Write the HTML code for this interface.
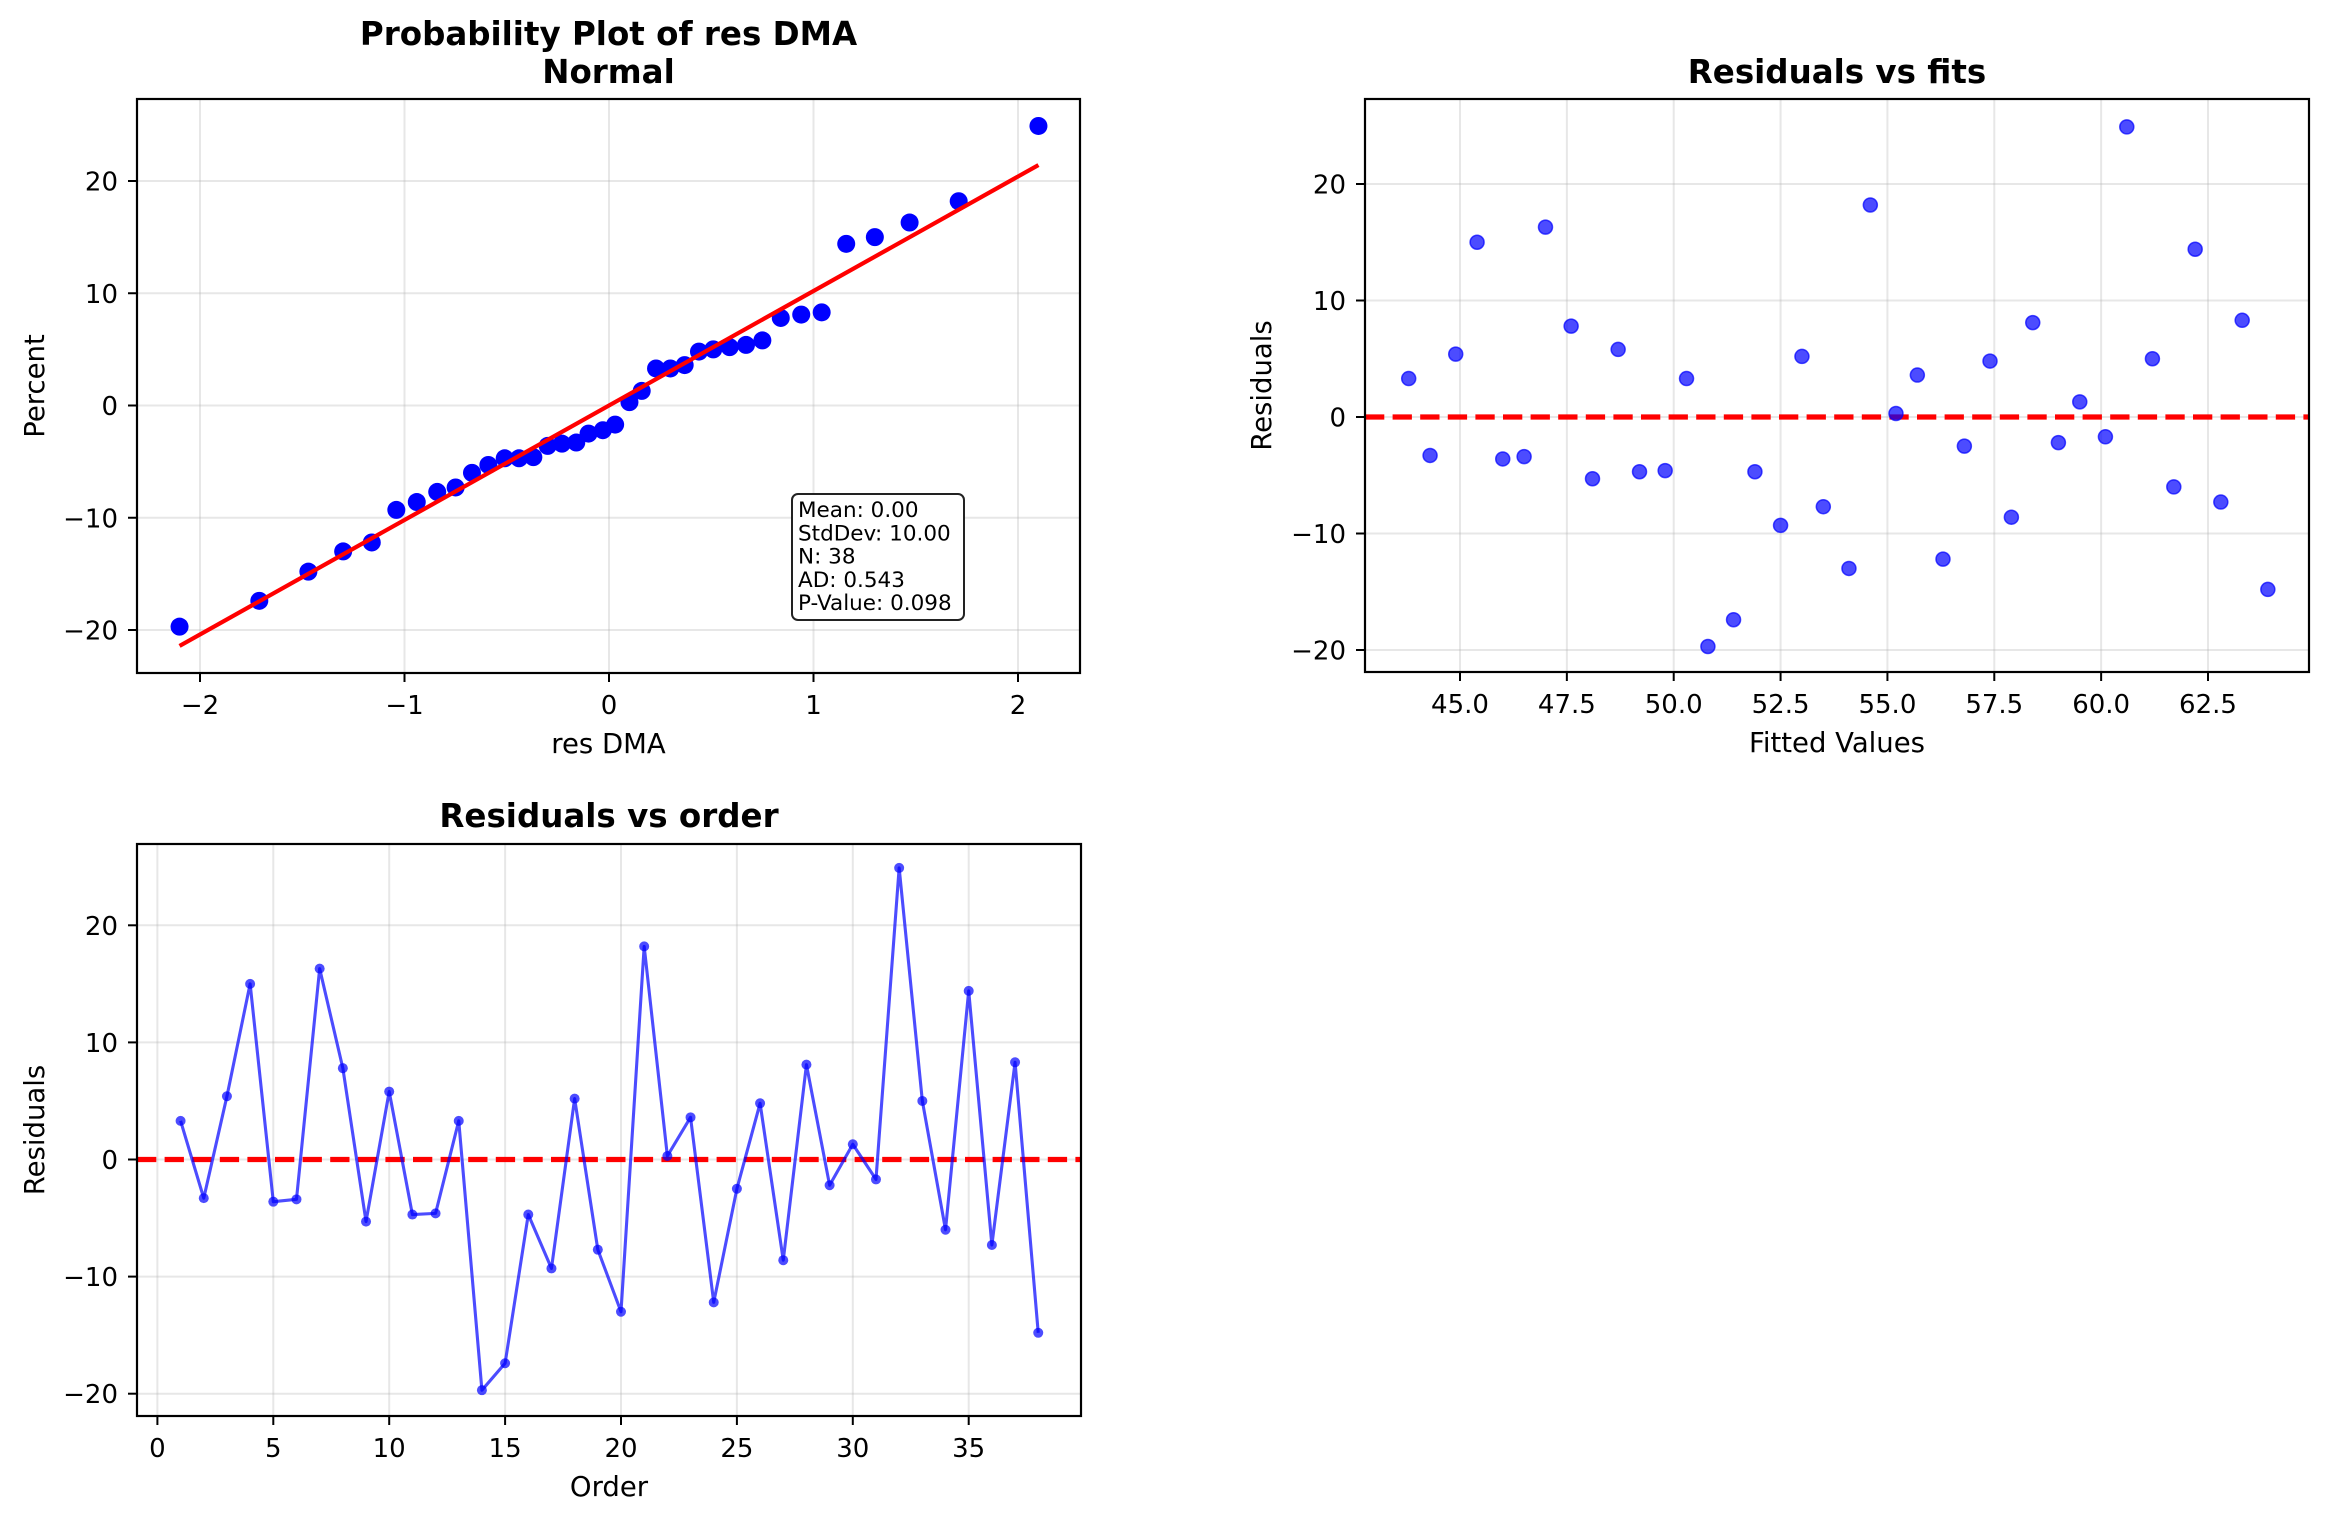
<!DOCTYPE html>
<html><head><meta charset="utf-8"><style>
html,body{margin:0;padding:0;background:#fff;}
svg{display:block;font-family:"DejaVu Sans","Liberation Sans",sans-serif;}
</style></head><body>
<svg id="fig" width="2329" height="1523" viewBox="0 0 2329 1523" xmlns="http://www.w3.org/2000/svg"></svg>
<script>
// ---- data ----
const orderIdx = [1,2,3,4,5,6,7,8,9,10,11,12,13,14,15,16,17,18,19,20,21,22,23,24,25,26,27,28,29,30,31,32,33,34,35,36,37,38];
const residuals = [3.3,-3.3,5.4,15.0,-3.6,-3.4,16.3,7.8,-5.3,5.8,-4.7,-4.6,3.3,-19.7,-17.4,-4.7,-9.3,5.2,-7.7,-13.0,18.2,0.3,3.6,-12.2,-2.5,4.8,-8.6,8.1,-2.2,1.3,-1.7,24.9,5.0,-6.0,14.4,-7.3,8.3,-14.8];
const fittedValues = [43.8,44.3,44.9,45.4,46.0,46.5,47.0,47.6,48.1,48.7,49.2,49.8,50.3,50.8,51.4,51.9,52.5,53.0,53.5,54.1,54.6,55.2,55.7,56.3,56.8,57.4,57.9,58.4,59.0,59.5,60.1,60.6,61.2,61.7,62.2,62.8,63.3,63.9];
const quantiles = [-2.10,-1.71,-1.47,-1.30,-1.16,-1.04,-0.94,-0.84,-0.75,-0.67,-0.59,-0.51,-0.44,-0.37,-0.30,-0.23,-0.16,-0.10,-0.03,0.03,0.10,0.16,0.23,0.30,0.37,0.44,0.51,0.59,0.67,0.75,0.84,0.94,1.04,1.16,1.30,1.47,1.71,2.10];
const sortedResiduals = [-19.7,-17.4,-14.8,-13.0,-12.2,-9.3,-8.6,-7.7,-7.3,-6.0,-5.3,-4.7,-4.7,-4.6,-3.6,-3.4,-3.3,-2.5,-2.2,-1.7,0.3,1.3,3.3,3.3,3.6,4.8,5.0,5.2,5.4,5.8,7.8,8.1,8.3,14.4,15.0,16.3,18.2,24.9];
const fitLine = [-2.10, 2.10];
const fitSlope = [10.2];
const fitIntercept = [0.0];
const p1XTicks = [-2,-1,0,1,2];
const p1YTicks = [-20,-10,0,10,20];
const p2XTicks = [45.0,47.5,50.0,52.5,55.0,57.5,60.0,62.5];
const p2YTicks = [-20,-10,0,10,20];
const p3XTicks = [0,5,10,15,20,25,30,35];
const p3YTicks = [-20,-10,0,10,20];
const statsLines = ["Mean: 0.00","StdDev: 10.00","N: 38","AD: 0.543","P-Value: 0.098"];

const NS="http://www.w3.org/2000/svg";
const svg=document.getElementById('fig');
function mk(tag,attrs,parent){const e=document.createElementNS(NS,tag);for(const k in attrs)e.setAttribute(k,attrs[k]);(parent||svg).appendChild(e);return e;}
function lin(d0,d1,r0,r1){return v=>r0+(v-d0)*(r1-r0)/(d1-d0);}

function axes(cfg){
  const g=mk('g',{});
  
  
  const {L,R,T,B,sx,sy}=cfg;
  cfg.xt.forEach(v=>{const l=mk('line',{x1:sx(v),x2:sx(v),y1:T,y2:B,stroke:'#b0b0b0','stroke-opacity':0.3,'stroke-width':2},g);
    });
  cfg.yt.forEach(v=>{const l=mk('line',{x1:L,x2:R,y1:sy(v),y2:sy(v),stroke:'#b0b0b0','stroke-opacity':0.3,'stroke-width':2},g);
    });
  cfg.xt.forEach(v=>{const x=sx(v);
    mk('line',{x1:x,x2:x,y1:B,y2:B+9,stroke:'#000','stroke-width':2},g);
    const t=mk('text',{x:x,y:B+41,'font-size':26,'text-anchor':'middle'},g);
    
    t.textContent=cfg.xfmt(v).replace('-','\u2212');});
  cfg.yt.forEach(v=>{const y=sy(v);
    mk('line',{x1:L-9,x2:L,y1:y,y2:y,stroke:'#000','stroke-width':2},g);
    const t=mk('text',{x:L-19,y:y+9.5,'font-size':26,'text-anchor':'end'},g);
    
    t.textContent=String(v).replace('-','\u2212');});
  const xl=mk('text',{x:(L+R)/2,y:B+80,'font-size':27.5,'text-anchor':'middle'},g);
  
  xl.textContent=cfg.xlabel;
  const yx=cfg.ylx, yy=(T+B)/2;
  const yl=mk('text',{x:yx,y:yy,'font-size':27.5,'text-anchor':'middle',transform:`rotate(-90 ${yx} ${yy})`},g);
  
  yl.textContent=cfg.ylabel;
  cfg.title.forEach((s,i)=>{const t=mk('text',{x:(L+R)/2,y:cfg.titleY[i],'font-size':32.5,'font-weight':'bold','text-anchor':'middle'},g);
    t.textContent=s;});
  const clip='clip-'+cfg.name;
  const cp=mk('clipPath',{id:clip},g);mk('rect',{x:L,y:T,width:R-L,height:B-T},cp);
  const plot=mk('g',{'clip-path':`url(#${clip})`},g);
  
  return {g,plot,finish:()=>{const f=mk('rect',{x:L,y:T,width:R-L,height:B-T,fill:'none',stroke:'#000','stroke-width':2.2},g);
    }};
}

// ---- Plot 1: probability plot ----
{
  const L=137,R=1080,T=99,B=673;
  const sx=lin(-2,0,200,609), sy=lin(-20,20,630,181);
  const a=axes({name:'probability-plot',L,R,T,B,sx,sy,xt:p1XTicks,yt:p1YTicks,xfmt:v=>String(v),
    xlabel:'res DMA',ylabel:'Percent',ylx:44,title:['Probability Plot of res DMA','Normal'],titleY:[45,83]});
  quantiles.forEach((q,i)=>{const c=mk('circle',{cx:sx(q),cy:sy(sortedResiduals[i]),r:9,fill:'#0000ff'},a.plot);
    });
  const ln=mk('line',{x1:sx(fitLine[0]),y1:sy(fitSlope[0]*fitLine[0]+fitIntercept[0]),x2:sx(fitLine[1]),y2:sy(fitSlope[0]*fitLine[1]+fitIntercept[0]),stroke:'#ff0000','stroke-width':4.2},a.plot);
  
  const box=mk('g',{},a.g);
  
  mk('rect',{x:792,y:494,width:172,height:126,rx:6,fill:'#fff',stroke:'#222','stroke-width':2},box);
  statsLines.forEach((s,i)=>{const t=mk('text',{x:798,y:517+i*23.3,'font-size':21.5},box);
    t.textContent=s;});
  a.finish();
}

// ---- Plot 2: residuals vs fits ----
{
  const L=1365,R=2309,T=99,B=672;
  const sx=lin(45,62.5,1460,2208), sy=lin(-20,20,650,184);
  const a=axes({name:'residuals-vs-fits',L,R,T,B,sx,sy,xt:p2XTicks,yt:p2YTicks,xfmt:v=>v.toFixed(1),
    xlabel:'Fitted Values',ylabel:'Residuals',ylx:1271,title:['Residuals vs fits'],titleY:[83]});
  const z=mk('line',{x1:L,x2:R,y1:sy(0),y2:sy(0),stroke:'#ff0000','stroke-width':5.2,'stroke-dasharray':'19.3 8.3'},a.plot);
  
  fittedValues.forEach((f,i)=>{const c=mk('circle',{cx:sx(f),cy:sy(residuals[i]),r:7,fill:'#0000ff','fill-opacity':0.7,stroke:'#0000ff','stroke-opacity':0.7,'stroke-width':1.5},a.plot);
    });
  a.finish();
}

// ---- Plot 3: residuals vs order ----
{
  const L=137,R=1081,T=844,B=1416;
  const sx=lin(0,35,157.4,968.7), sy=lin(-20,20,1393.7,925.3);
  const a=axes({name:'residuals-vs-order',L,R,T,B,sx,sy,xt:p3XTicks,yt:p3YTicks,xfmt:v=>String(v),
    xlabel:'Order',ylabel:'Residuals',ylx:44,title:['Residuals vs order'],titleY:[827]});
  const z=mk('line',{x1:L,x2:R,y1:sy(0),y2:sy(0),stroke:'#ff0000','stroke-width':5.2,'stroke-dasharray':'19.3 8.3'},a.plot);
  
  const pts=orderIdx.map((o,i)=>sx(o)+','+sy(residuals[i])).join(' ');
  const pl=mk('polyline',{points:pts,fill:'none',stroke:'#0000ff','stroke-opacity':0.7,'stroke-width':3.1,'stroke-linejoin':'round'},a.plot);
  
  orderIdx.forEach((o,i)=>{const c=mk('circle',{cx:sx(o),cy:sy(residuals[i]),r:5,fill:'#0000ff','fill-opacity':0.7},a.plot);
    });
  a.finish();
}
</script>
</body></html>
